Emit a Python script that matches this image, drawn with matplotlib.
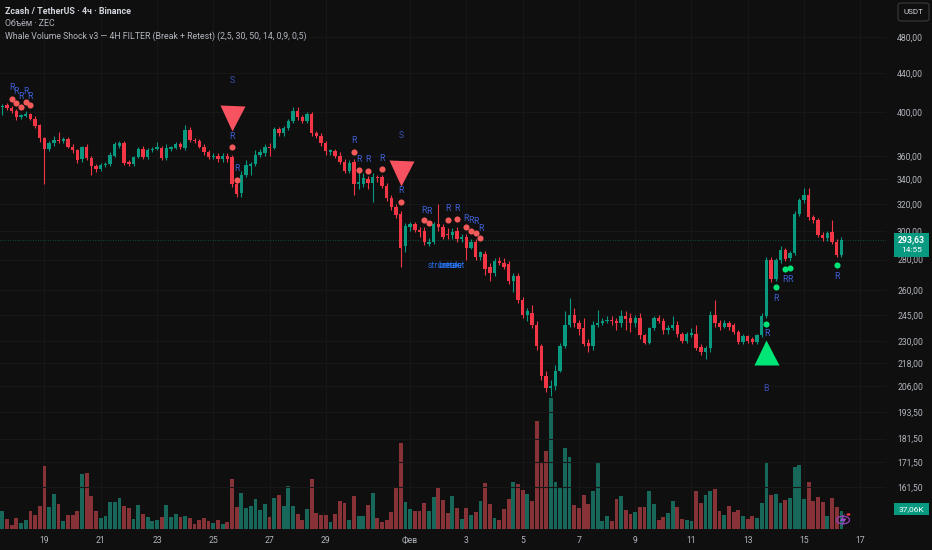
import datetime as dt
import numpy as np
import matplotlib
matplotlib.use("Agg")
import matplotlib.pyplot as plt
from matplotlib.patches import Rectangle, FancyBboxPatch, Circle, Polygon
from matplotlib.ticker import FixedLocator, NullLocator, FixedFormatter

# ---------------- data ----------------
start_time = dt.datetime(2026, 1, 17, 12, 0)   # first 4h candle
opens = [405,407,404,401,395,396,398,394,388,376,
         366,371,374,373,375,368,365,357,368,358,
         351,349,352,353,360,369,371,355,353,359,
         366,359,365,366,367,358,366,367,370,367,
         383,374,373,368,363,359,360,357,360,359,
         336,329,344,351,353,361,362,368,367,384,
         380,385,392,401,395,392,398,380,378,371,
         363,364,360,355,347,355,336,336,340,337,
         342,342,335,325,318,313,289,303,305,301,
         300,291,292,305,303,298,297,300,294,296,
         288,292,282,284,275,271,279,278,277,266,
         269,254,245,246,239,227,211,205,206,214,
         227,239,245,240,237,228.5,227,239,240,241,
         242,241.5,240,244,243,240,243,233,229,237,
         243,241,236,237.5,239,234,230,233,234,226.5,
         224,226,245,240,238,240,239,235,229.5,232.5,
         231,229.5,233,244,280,267,280,286.6,281,284.5,
         313,323.5,327.4,310.5,308,297.5,295,299,292.5,283.2]
highs = [408,409,406,403,398,401,399,396,389,377,
         373,378,381,377,377,370,366,369,370,360,
         353,354,355,363,372,373,373,356,360,368,
         369,367,368,372,369,370,369,372,372,388,
         386,376,375,370,365,362,362,362,362,361,
         340,347,356,355,365,366,370,371,386,386,
         387,394,405,405,397,400,400,382,380,373,
         366,366,363,357,356,357,346,345,343,345,
         344,344,337,327,320,315,306,307,307,303,
         303,295,307,320,305,302,302,303,298,298,
         294,294,286,286,278,281,282,281,279,271,
         271,256,249,251,241,228,214,209,217,229,
         247,255,249,242,243,231,241,248,243,244,
         244,243,248,247,246,245,246,234,238,244,
         245,243,239,244,241,235,235,237,239,228,
         227,247,254,242,242,241,240,236,234,233,
         232,234,246,282,282,281,289,288,286,315,
         325,333,333,312,310,299,300,308,294,296]
lows = [397,402,399,393,394,395,393,385,372,336,
        364,369,371,371,367,362,354,355,356,344,
        346,347,350,351,359,367,352,351,351,358,
        357,357,363,365,356,356,364,366,366,365,
        372,371,367,361,357,357,355,355,355,334,
        326,326,342,344,351,359,360,360,366,378,
        378,383,390,393,390,390,378,376,369,361,
        361,358,353,345,345,327,332,334,332,322,
        338,333,323,316,310,275,285,300,299,296,
        290,289,291,300,294,294,294,292,292,280,
        287,280,280,270,266,269,276,274,264,259,
        252,243,241,237,225,209,203,201,204,213,
        226,238,238,233,227,224,225,238,239,240,
        239,236,238,236,235,238,231,228,228,236,
        240,234,234,236,232,229,229,232,225,222,
        220,224,238,236,237,236,234,228,228,229,
        228,228,232,243,265,266,278,279,279,283,
        311,321,308,306,296,293,293,291,282,282]
closes = [406,404,401,395,397,398,394,387,376,366,
          371,374,373,375,368,365,356,368,358,351,
          349,352,353,361,370,371,354,353,359,366,
          359,365,366,368,358,367,368,370,368,383,
          374,373,368,363,359,360,357,360,357,336,
          328,344,352,353,361,363,368,367,384,380,
          385,392,401,395,392,398,380,378,371,364,
          365,360,355,347,354,336,338,341,337,342,
          341,335,325,318,312,288,304,305,301,299,
          292,292.5,305,303,296,297,299.6,294,296,288,
          292,282,285,274,271,279,277.5,275,266,269,
          254,245,247,239,227,211,205,206,214,227,
          239,245,240,236.5,228,227,239,240,241,242,
          241,240,244,242.5,240,243,233,229,237,243,
          241,236,237.5,239,234,230,234,234.5,226,224,
          226,245,240,238,240,238,235,229.5,232.5,230,
          229.5,233,244,280,267,280,286.6,280.5,284.5,313,
          323.5,327.4,310.5,308,297,295,298.5,292.5,283.2,293.63]
volumes_k = [37,21,8,23,13,19,38,29,47,130,
             45,72,51,17,29,29,38,113,115,68,
             38,22,27,56,56,63,47,43,21,49,
             30,25,16,19,24,49,25,30,24,27,
             23,10,19,22,17,13,19,10,15,102,
             45,75,43,48,62,40,51,24,63,71,
             48,88,47,30,19,41,102,32,29,29,
             15,30,58,54,19,67,27,27,49,75,
             23,15,19,36,86,178,56,41,37,37,
             54,38,65,85,60,32,68,43,21,44,
             29,34,58,95,51,23,19,41,62,97,
             93,80,73,58,222,135,161,270,97,84,
             166,149,49,43,70,51,78,137,16,27,
             17,61,67,40,31,34,46,45,78,51,
             19,25,32,58,46,21,19,17,78,54,
             71,79,82,38,29,47,34,40,27,20,
             27,22,53,137,70,73,53,60,64,127,
             132,62,96,58,65,56,27,64,45,37.06]

price_ticks = [480, 440, 400, 360, 340, 320, 300, 280, 260, 245, 230, 218, 206, 193.5, 181.5, 171.5, 161.5]
date_ticks = [dt.datetime(2026, 1, d) for d in (19, 21, 23, 25, 27, 29)] + \
             [dt.datetime(2026, 2, d) for d in (1, 3, 5, 7, 9, 11, 13, 15, 17)]
date_labels = ["19", "21", "23", "25", "27", "29", "Фев", "3", "5", "7", "9", "11", "13", "15", "17"]

# signals
sell_dot_idx = [2, 3, 4, 5, 6, 49, 50, 75, 76, 78, 81, 85, 90, 91, 95, 97, 99, 100, 101, 102]
sell_dot_price = [413, 409.5, 405, 410, 407, 367.8, 339.5, 363.6, 347.8, 347.3, 348.3, 322.1,
                  308.2, 306.2, 308.2, 309, 302.8, 300.1, 298.9, 295.3]
sell_r_price = [425, 421, 416, 421, 416, 376.8, 348.7, 373.4, 356.4, 356.4, 358, 330.6,
                315.7, 314.4, 316.5, 316.5, 309, 307.7, 307, 302]
buy_dot_idx = [163, 165, 167, 168, 178]
buy_dot_price = [239.6, 261.9, 274.0, 274.6, 276.3]
buy_r_price = [233.9, 255.0, 266.9, 266.9, 269.0]
sell_tri_idx = [49, 85]
sell_tri_price = [394.5, 345.6]
sell_s_price = [431.5, 377.7]
buy_tri_idx = [163]
buy_tri_price = [223.6]
buy_b_price = [204.7]
retest_words = ["structure", "retest", "break"]
retest_idx = [94.4, 96.2, 95.3]
retest_price = 276.3
last_price = 293.63
last_volume_label = "37,06K"
countdown = "14:55"

# ---------------- style ----------------
BG = "#0f0f0f"
GREEN = "#089981"
RED = "#f23645"
VGREEN = "#17675b"
VRED = "#863236"
TXT = "#b2b5be"
GRID = "#171717"
BLUE = "#4060d8"
plt.rcParams["font.family"] = ["Roboto", "DejaVu Sans"]

W, H = 932, 550
fig = plt.figure(figsize=(W / 100, H / 100), dpi=100, facecolor=BG)
rect = [0, 21 / H, 886 / W, 529 / H]
vax = fig.add_axes(rect)
ax = fig.add_axes(rect, sharex=vax)
vax.set_facecolor(BG)
ax.set_facecolor("none")

o = np.array(opens, float); h = np.array(highs, float)
l = np.array(lows, float); c = np.array(closes, float)
v = np.array(volumes_k, float)
idx = np.arange(len(o))
up = c >= o
cols = np.where(up, GREEN, RED)
vcols = np.where(up, VGREEN, VRED)

# volume
vax.set_axisbelow(True)
vax.bar(idx, v, width=0.82, color=vcols, linewidth=0)
vax.set_ylim(0, 1089)
vax.set_yticks([])
vax.grid(axis="x", color=GRID, lw=0.8)

# candles
ax.set_yscale("log")
ax.vlines(idx, l, h, colors=cols, lw=0.8, zorder=3)
bot = np.minimum(o, c)
top = np.maximum(o, c)
hgt = np.maximum(top - bot, bot * 0.0025)
ax.bar(idx, hgt, bottom=bot, width=0.72, color=cols, linewidth=0, zorder=4)
ax.set_ylim(145.8, 525)
ax.set_xlim(-0.49, 188.5)

ax.axhline(last_price, color=GREEN, lw=0.6, ls=(0, (1, 2)), alpha=0.6, zorder=2)

# y axis
ax.yaxis.tick_right()
ax.yaxis.set_major_locator(FixedLocator(price_ticks))
ax.yaxis.set_minor_locator(NullLocator())
ax.yaxis.set_major_formatter(FixedFormatter([f"{p:.2f}".replace(".", ",") for p in price_ticks]))
ax.tick_params(axis="y", length=0, pad=8, labelsize=6.2, colors=TXT)
ax.grid(axis="y", color=GRID, lw=0.8, zorder=0)
ax.tick_params(axis="x", length=0, labelbottom=False)

# x axis
tick_pos = [(d - start_time).total_seconds() / (4 * 3600) for d in date_ticks]
vax.set_xticks(tick_pos)
vax.set_xticklabels(date_labels)
vax.tick_params(axis="x", length=0, pad=5, labelsize=6.2, colors=TXT)

for a in (ax, vax):
    for s in a.spines.values():
        s.set_visible(False)

# signals
ax.plot(sell_dot_idx, sell_dot_price, "o", ms=4.4, color="#f55a5a", mec="none", zorder=6)
ax.plot(buy_dot_idx, buy_dot_price, "o", ms=4.4, color="#00e676", mec="none", zorder=6)
for i, p in zip(sell_dot_idx, sell_r_price):
    ax.text(i, p, "R", color=BLUE, fontsize=6.3, ha="center", va="center", zorder=7)
for i, p in zip(buy_dot_idx, buy_r_price):
    ax.text(i, p, "R", color=BLUE, fontsize=6.3, ha="center", va="center", zorder=7)
ax.plot(sell_tri_idx, sell_tri_price, "v", ms=18, color="#f7525f", mec="none", zorder=6)
ax.plot(buy_tri_idx, buy_tri_price, "^", ms=18, color="#00e676", mec="none", zorder=6)
for i, p in zip(sell_tri_idx, sell_s_price):
    ax.text(i, p, "S", color="#3a4fb5", fontsize=6.3, ha="center", va="center", zorder=7)
for i, p in zip(buy_tri_idx, buy_b_price):
    ax.text(i, p, "B", color="#3a4fb5", fontsize=6.3, ha="center", va="center", zorder=7)
for word, xi in zip(retest_words, retest_idx):
    ax.text(xi, retest_price, word, color="#2979ff", fontsize=6.2, ha="center", va="center",
            alpha=0.85, zorder=7)

# ---------------- overlays in pixel coordinates ----------------
def fx(x):
    return x / W

def fy(y):
    return 1 - y / H

fig.text(fx(5), fy(12), "Zcash / TetherUS · 4ч · Binance", color="#d1d4dc", fontsize=6.4,
         fontweight="semibold", va="center", ha="left")
fig.text(fx(5), fy(24), "Объём · ZEC", color=TXT, fontsize=6.3, va="center", ha="left")
fig.text(fx(5), fy(36), "Whale Volume Shock v3 — 4H FILTER (Break + Retest) (2,5, 30, 50, 14, 0,9, 0,5)",
         color=TXT, fontsize=6.3, va="center", ha="left")

# USDT box
fig.add_artist(FancyBboxPatch((fx(898), fy(21)), 31 / W, 18 / H, boxstyle="round,pad=0,rounding_size=0.004",
                              transform=fig.transFigure, facecolor=BG, edgecolor="#3a3a3a", lw=0.8))
fig.text(fx(913.5), fy(12.5), "USDT", color="#d1d4dc", fontsize=5.8, ha="center", va="center")

# last price box
fig.add_artist(Rectangle((fx(894), fy(257)), 35 / W, 24 / H, transform=fig.transFigure,
                         facecolor=GREEN, edgecolor="none", zorder=5))
fig.text(fx(911.5), fy(240), f"{last_price:.2f}".replace(".", ","), color="white", fontsize=6.2,
         fontweight="bold", ha="center", va="center", zorder=6)
fig.text(fx(911.5), fy(250.5), countdown, color="white", fontsize=6, ha="center", va="center", zorder=6)

# volume label box
fig.add_artist(Rectangle((fx(894), fy(515)), 35 / W, 12 / H, transform=fig.transFigure,
                         facecolor=GREEN, edgecolor="none", zorder=5))
fig.text(fx(911.5), fy(509), last_volume_label, color="white", fontsize=6, ha="center",
         va="center", zorder=6)

# small lightning badge
fig.add_artist(Circle((fx(843), fy(520)), 6.5 / W, transform=fig.transFigure, facecolor="none",
                      edgecolor="#8e3fb0", lw=1.0, zorder=5))
bolt = [(845, 513), (840, 521), (843.5, 521), (841, 527), (846.5, 518.5), (843, 518.5), (845, 513)]
fig.add_artist(Polygon([(fx(x), fy(y)) for x, y in bolt], closed=True, transform=fig.transFigure,
                       facecolor="#9b4fc4", edgecolor="none", zorder=6))
fig.add_artist(Circle((fx(848.5), fy(514.5)), 2.0 / W, transform=fig.transFigure,
                      facecolor="#f23645", edgecolor="none", zorder=7))

fig.savefig("out.png", dpi=100, facecolor=BG)
